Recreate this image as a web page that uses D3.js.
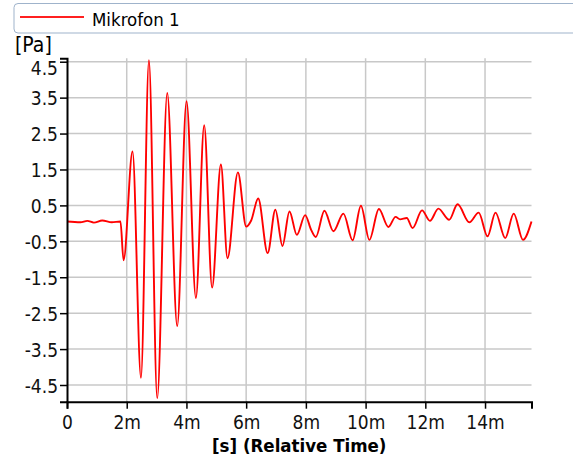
<!DOCTYPE html>
<html>
<head>
<meta charset="utf-8">
<script src="https://cdn.jsdelivr.net/npm/d3@7"></script>
<style>
  body { margin: 0; background: #fff; }
  text { font-family: "DejaVu Sans Condensed", "DejaVu Sans", sans-serif; font-stretch: condensed; }
</style>
</head>
<body>
<div id="chart"></div>
<script>
// Signal (time in ms, pressure in Pa)
const timeMs = [0, 0.45, 0.68, 0.9, 1.18, 1.5, 1.79, 1.894, 2.195, 2.477, 2.744, 3.022, 3.357, 3.691,
  4.003, 4.317, 4.595, 4.859, 5.154, 5.375, 5.723, 6.001, 6.168, 6.403, 6.72, 6.978, 7.216, 7.45,
  7.697, 7.975, 8.176, 8.333, 8.621, 8.922, 9.257, 9.565, 9.843, 10.127, 10.445, 10.763, 11.004,
  11.155, 11.379, 11.573, 11.891, 12.155, 12.437, 12.8, 13.08, 13.474, 13.787, 14.083, 14.35,
  14.675, 14.96, 15.271, 15.556];
const pressure = [0.05, 0.03, 0.07, 0.02, 0.08, 0.03, 0.05, -1.03, 2.0, -4.30, 4.54, -4.87, 3.63, -2.86,
  3.40, -2.08, 2.73, -1.79, 1.64, -0.97, 1.42, -0.09, 0.08, 0.69, -0.83, 0.38, -0.63, 0.33,
  -0.32, 0.23, -0.18, -0.38, 0.35, -0.22, 0.27, -0.47, 0.49, -0.46, 0.40, -0.10, 0.18,
  0.11, 0.15, -0.13, 0.36, 0.07, 0.41, 0.10, 0.53, 0.03, 0.30, -0.36, 0.30,
  -0.41, 0.27, -0.46, 0.05];
const xTicks = [0, 2, 4, 6, 8, 10, 12, 14];
const yTicks = [-4.5, -3.5, -2.5, -1.5, -0.5, 0.5, 1.5, 2.5, 3.5, 4.5];
const seriesName = "Mikrofon 1";

const W = 573, H = 461;
const plotL = 67, plotR = 531.5, plotT = 58.3, plotB = 401.7;

const svg = d3.select("#chart").append("svg")
  .attr("width", W).attr("height", H);

const x = d3.scaleLinear().domain([0, 15.556]).range([plotL, plotR]);
const y = d3.scaleLinear().domain([-4.965, 4.595]).range([plotB, plotT]);

// Legend
svg.append("rect")
  .attr("x", 14).attr("y", 3.5).attr("width", 575).attr("height", 29.5)
  .attr("rx", 4)
  .attr("fill", "#fff").attr("stroke", "#9fb3cb").attr("stroke-width", 1);
svg.append("line")
  .attr("x1", 20).attr("x2", 84).attr("y1", 17).attr("y2", 17)
  .attr("stroke", "#ff2020").attr("stroke-width", 2);
svg.append("text")
  .attr("x", 92).attr("y", 26)
  .style("font-size", "18.5px")
  .text(seriesName);

// Grid
svg.append("g").selectAll("line")
  .data(xTicks.filter(d => d > 0))
  .enter().append("line")
  .attr("x1", d => x(d)).attr("x2", d => x(d))
  .attr("y1", plotT).attr("y2", plotB)
  .attr("stroke", "#c8c8c8").attr("stroke-width", 1.5);
svg.append("g").selectAll("line")
  .data(yTicks)
  .enter().append("line")
  .attr("x1", plotL).attr("x2", plotR)
  .attr("y1", d => y(d)).attr("y2", d => y(d))
  .attr("stroke", "#c8c8c8").attr("stroke-width", 1.5);

// Signal
svg.append("path")
  .datum(timeMs.map((t, i) => [t, pressure[i]]))
  .attr("fill", "none")
  .attr("stroke", "#ff0000")
  .attr("stroke-width", 1.9)
  .attr("d", d3.line()
    .x(d => x(d[0]))
    .y(d => y(d[1]))
    .curve(d3.curveMonotoneX));

// Axes
const xAxis = svg.append("g")
  .attr("transform", "translate(0," + plotB + ")")
  .call(d3.axisBottom(x).tickValues(xTicks).tickSize(7).tickPadding(7)
    .tickFormat(d => d === 0 ? "0" : d + "m"));
const yAxis = svg.append("g")
  .attr("transform", "translate(" + plotL + ",0)")
  .call(d3.axisLeft(y).tickValues(yTicks).tickSize(7).tickPadding(2)
    .tickFormat(d => d.toFixed(1)));

[xAxis, yAxis].forEach(g => {
  g.select(".domain").attr("stroke", "#000").attr("stroke-width", 2);
  g.selectAll(".tick line").attr("stroke", "#000").attr("stroke-width", 1.5);
  g.selectAll(".tick text")
    .attr("fill", "#111")
    .style("font-size", "19px")
    .style("font-family", "\"DejaVu Sans Condensed\", \"DejaVu Sans\", sans-serif");
});
// top label sits a bit lower, the rest just under their tick
yAxis.selectAll(".tick text")
  .attr("dy", d => d === 4.5 ? "12.3px" : "7.3px");

// Axis titles
svg.append("text")
  .attr("x", 15).attr("y", 52)
  .style("font-size", "21px")
  .text("[Pa]");
svg.append("text")
  .attr("x", (plotL + plotR) / 2).attr("y", 452)
  .attr("text-anchor", "middle")
  .style("font-size", "18.5px")
  .style("font-weight", "bold")
  .text("[s] (Relative Time)");
</script>
</body>
</html>
